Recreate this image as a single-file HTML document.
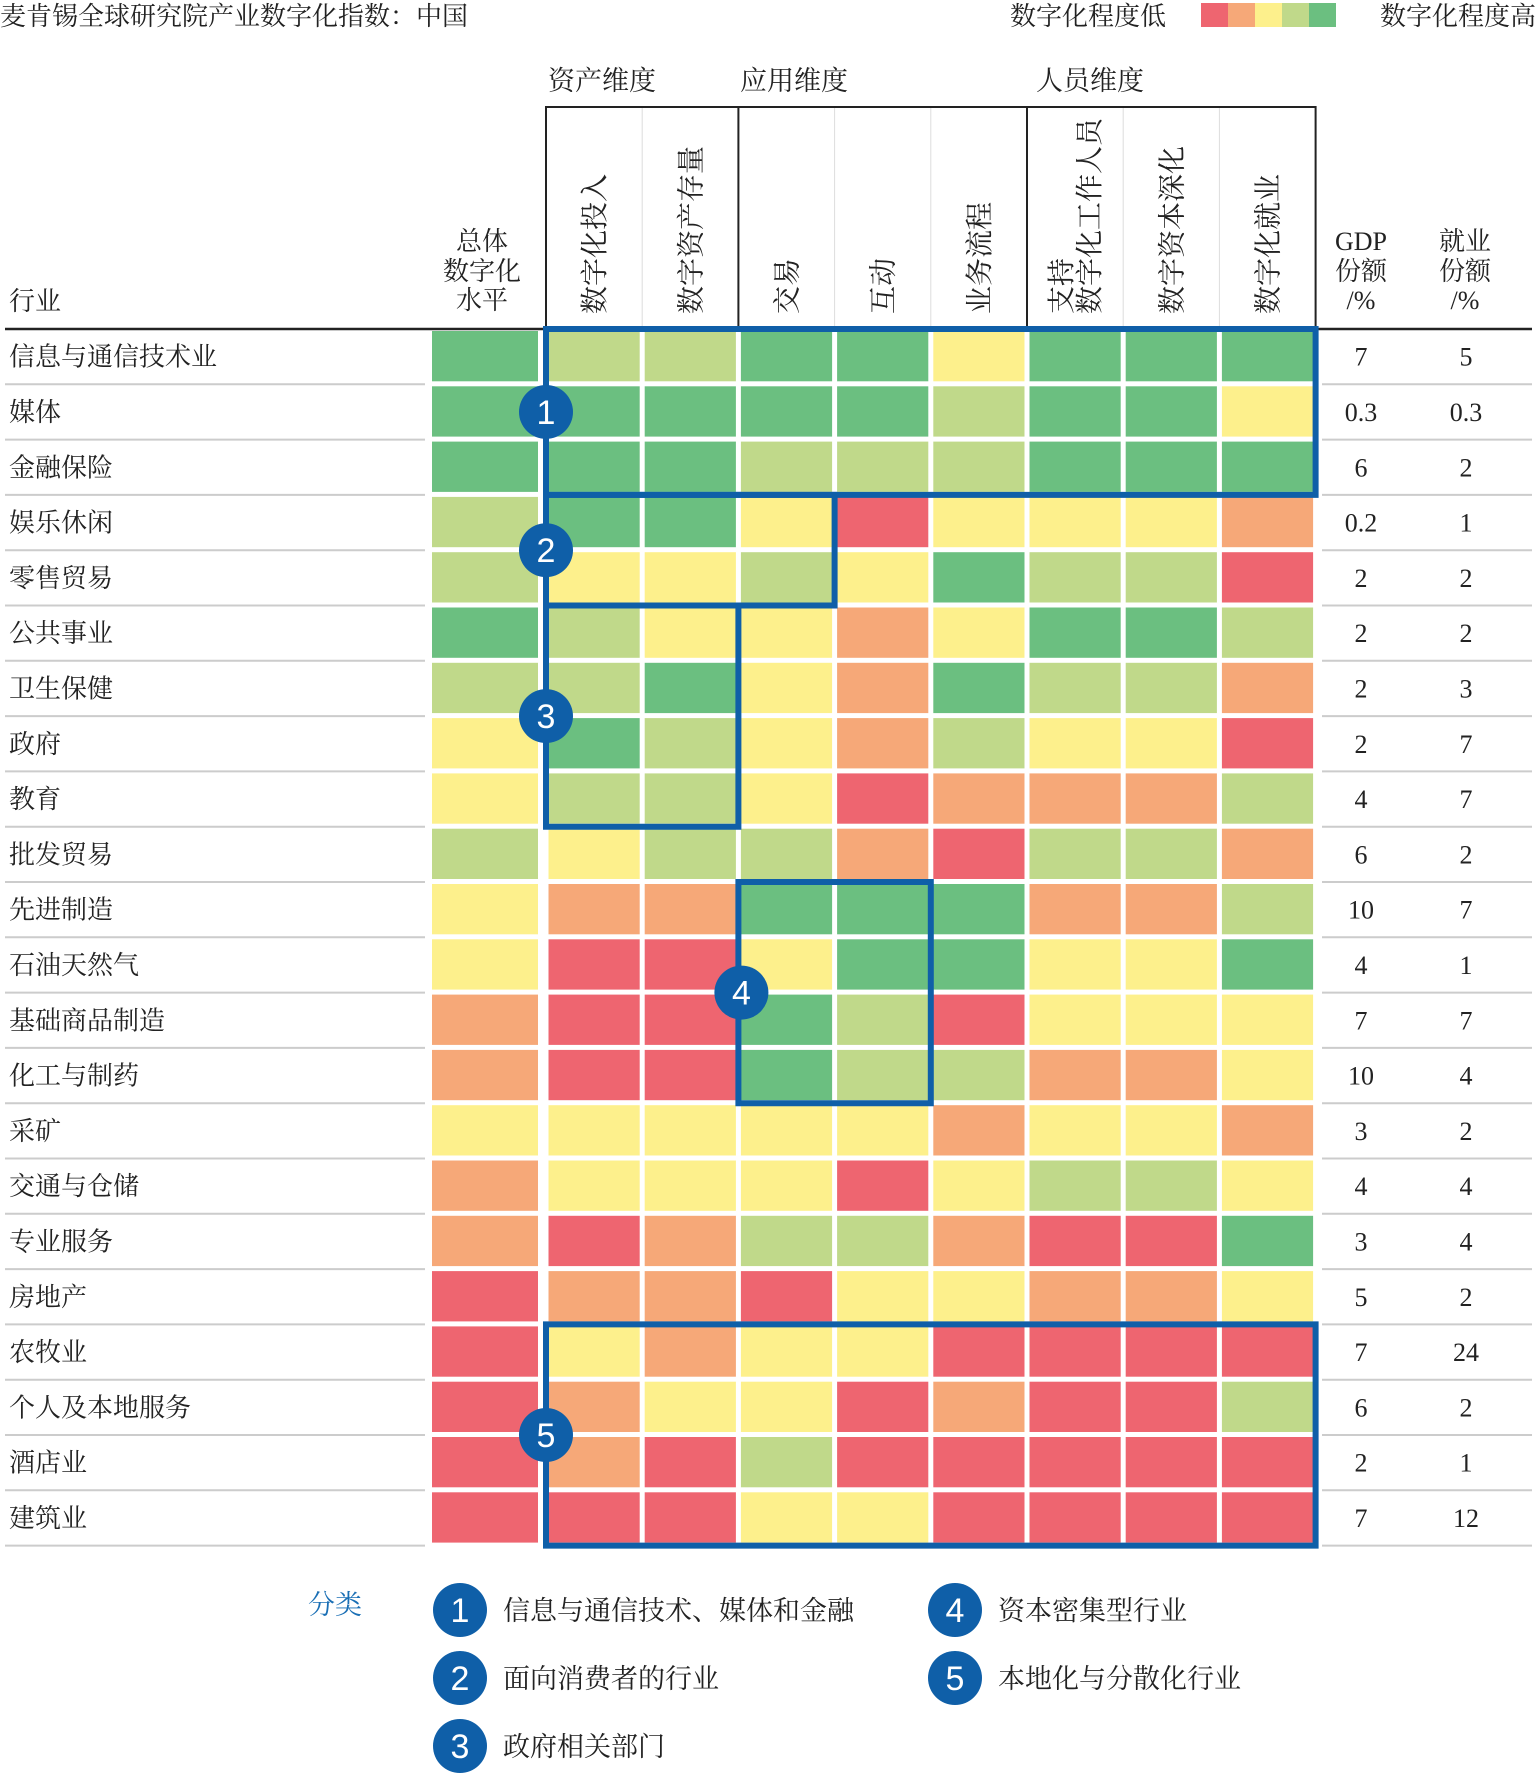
<!DOCTYPE html>
<html><head><meta charset="utf-8"><style>
html,body{margin:0;padding:0;background:#fff;}
svg{display:block;font-family:"Liberation Serif","Noto Serif CJK SC",serif;}
</style></head><body>
<svg id="chart" width="1536" height="1775" viewBox="0 0 1536 1775" xmlns="http://www.w3.org/2000/svg">
<text x="0" y="25" font-size="26" fill="#222">麦肯锡全球研究院产业数字化指数：中国</text>
<g>
<text x="1010" y="25" font-size="26" fill="#222">数字化程度低</text>
<rect x="1201" y="3" width="27" height="24" fill="#ee6570"/>
<rect x="1228" y="3" width="27" height="24" fill="#f6a878"/>
<rect x="1255" y="3" width="27" height="24" fill="#fdf08c"/>
<rect x="1282" y="3" width="27" height="24" fill="#c0d98a"/>
<rect x="1309" y="3" width="27" height="24" fill="#6bbf80"/>
<text x="1536" y="25" font-size="26" fill="#222" text-anchor="end">数字化程度高</text>
</g>
<g id="grid"></g>
<g id="boxes"></g>
<g id="legend2"></g>
</svg>
<script>
const industries = ["信息与通信技术业","媒体","金融保险","娱乐休闲","零售贸易","公共事业","卫生保健","政府","教育","批发贸易","先进制造","石油天然气","基础商品制造","化工与制药","采矿","交通与仓储","专业服务","房地产","农牧业","个人及本地服务","酒店业","建筑业"];
const columns = ["数字化投入","数字资产存量","交易","互动","业务流程","支持|数字化工作人员","数字资本深化","数字化就业"];
// 0=red(low) 1=orange 2=yellow 3=light green 4=green(high)
const overallLevel = [4,4,4,3,3,4,3,2,2,3,2,2,1,1,2,1,1,0,0,0,0,0];
const cellLevels = [
 [3,3,4,4,2,4,4,4],
 [4,4,4,4,3,4,4,2],
 [4,4,3,3,3,4,4,4],
 [4,4,2,0,2,2,2,1],
 [2,2,3,2,4,3,3,0],
 [3,2,2,1,2,4,4,3],
 [3,4,2,1,4,3,3,1],
 [4,3,2,1,3,2,2,0],
 [3,3,2,0,1,1,1,3],
 [2,3,3,1,0,3,3,1],
 [1,1,4,4,4,1,1,3],
 [0,0,2,4,4,2,2,4],
 [0,0,4,3,0,2,2,2],
 [0,0,4,3,3,1,1,2],
 [2,2,2,2,1,2,2,1],
 [2,2,2,0,2,3,3,2],
 [0,1,3,3,1,0,0,4],
 [1,1,0,2,2,1,1,2],
 [2,1,2,2,0,0,0,0],
 [1,2,2,0,1,0,0,3],
 [1,0,3,0,0,0,0,0],
 [0,0,2,2,0,0,0,0]
];
const gdpShare = ["7","0.3","6","0.2","2","2","2","2","4","6","10","4","7","10","3","4","3","5","7","6","2","7"];
const empShare = ["5","0.3","2","1","2","2","3","7","7","2","7","1","7","4","2","4","4","2","24","2","1","12"];
const palette = ["#ee6570","#f6a878","#fdf08c","#c0d98a","#6bbf80"];
const categoryNames = ["信息与通信技术、媒体和金融","面向消费者的行业","政府相关部门","资本密集型行业","本地化与分散化行业"];

const NS="http://www.w3.org/2000/svg";
const X0=546, CW=96.2, Y0=329, RH=55.3;
const colX=i=>X0+i*CW;
const rowY=r=>Y0+r*RH;
function mk(tag,attrs,parent,txt){const e=document.createElementNS(NS,tag);for(const k in attrs)e.setAttribute(k,attrs[k]);if(txt!==undefined)e.textContent=txt;parent.appendChild(e);return e;}
const grid=document.getElementById('grid');
const boxes=document.getElementById('boxes');
const leg=document.getElementById('legend2');

// group headers
[["资产维度",602],["应用维度",794],["人员维度",1090]].forEach(([t,x])=>{
 const e=mk('text',{x:x,y:90,'font-size':27,'text-anchor':'middle',fill:'#222'},grid,t);
 
 
});
// header frame
const hf=mk('path',{d:`M${colX(0)} ${Y0-3} V107 H${colX(8)} V${Y0-3} M${colX(2)} 107 V${Y0-3} M${colX(5)} 107 V${Y0-3}`,stroke:'#222','stroke-width':2,fill:'none'},grid);


[1,3,4,6,7].forEach(i=>{const l=mk('line',{x1:colX(i),x2:colX(i),y1:108,y2:Y0-3,stroke:'#ddd','stroke-width':1},grid);
 
 });
// column headers rotated
columns.forEach((c,i)=>{
 const parts=c.split('|');
 const cx=colX(i)+CW/2;
 parts.forEach((p,j)=>{
  const off=(j-(parts.length-1)/2)*28;
  const e=mk('text',{x:0,y:0,'font-size':28,fill:'#222',transform:`translate(${cx+10+off},314) rotate(-90)`},grid,p);
  
  
 });
});
// left headers
const hdr=(t,x,y,anchor)=>{const e=mk('text',{x:x,y:y,'font-size':26,fill:'#222','text-anchor':anchor||'middle'},grid,t);
 
 };
hdr("行业",9,310,'start');
hdr("总体",482,250);hdr("数字化",482,280);hdr("水平",482,309);
hdr("GDP",1361,250);hdr("份额",1361,280);hdr("/%",1361,309);
hdr("就业",1465,250);hdr("份额",1465,280);hdr("/%",1465,309);
const topLine=mk('line',{x1:5,x2:1532,y1:Y0,y2:Y0,stroke:'#222','stroke-width':2.5},grid);



industries.forEach((name,r)=>{
 const y=rowY(r);
 const lab=mk('text',{x:9,y:y+RH/2+9,'font-size':26,fill:'#222'},grid,name);
 
 
 const o=mk('rect',{x:432,y:y+2,width:106,height:RH-5,fill:palette[overallLevel[r]]},grid);
 
 
 cellLevels[r].forEach((v,i)=>{
  const c=mk('rect',{x:colX(i)+2.5,y:y+2,width:CW-5,height:RH-5,fill:palette[v]},grid);
  
  
 });
 const g=mk('text',{x:1361,y:y+RH/2+9,'font-size':26,fill:'#222','text-anchor':'middle'},grid,gdpShare[r]);
 
 
 const e=mk('text',{x:1466,y:y+RH/2+9,'font-size':26,fill:'#222','text-anchor':'middle'},grid,empShare[r]);
 
 
 if(r<industries.length-1||true){
  const l1=mk('line',{x1:5,x2:425,y1:y+RH,y2:y+RH,stroke:'#ccc','stroke-width':2},grid);
  
  
  const l2=mk('line',{x1:1322,x2:1532,y1:y+RH,y2:y+RH,stroke:'#ccc','stroke-width':2},grid);
  
  
 }
});

// cluster boxes
const B="#0f5fa8";
function box(d,name){const p=mk('path',{d:d,stroke:B,'stroke-width':6,fill:'none','stroke-linejoin':'miter'},boxes);
 
 }
box(`M${colX(0)} ${rowY(0)} H${colX(8)} V${rowY(3)} H${colX(0)} Z`,'cluster-1-box');
box(`M${colX(0)} ${rowY(3)} H${colX(3)} V${rowY(5)} H${colX(0)} Z`,'cluster-2-box');
box(`M${colX(0)} ${rowY(5)} H${colX(2)} V${rowY(9)} H${colX(0)} Z`,'cluster-3-box');
box(`M${colX(2)} ${rowY(10)} H${colX(4)} V${rowY(14)} H${colX(2)} Z`,'cluster-4-box');
box(`M${colX(0)} ${rowY(18)} H${colX(8)} V${rowY(22)} H${colX(0)} Z`,'cluster-5-box');
function badge(cx,cy,n,parent){
 const c=mk('circle',{cx:cx,cy:cy,r:27,fill:B},parent);
 
 
 const t=mk('text',{x:cx,y:cy+12,'font-size':34,fill:'#fff','text-anchor':'middle','font-family':'Liberation Sans, sans-serif'},parent,String(n));
 
 
}
badge(colX(0),rowY(1)+RH/2,1,boxes);
badge(colX(0),rowY(4),2,boxes);
badge(colX(0),rowY(7)-RH*0.0+RH*0.0+(-RH/2)+RH/2+RH*0+(-0),3,boxes);
badge(colX(2)+3,rowY(12),4,boxes);
badge(colX(0),rowY(20),5,boxes);

// bottom legend
const fl=mk('text',{x:335,y:1614,'font-size':27,fill:'#1a6fb5','text-anchor':'middle'},leg,"分类");


const legPos=[[460,1610],[460,1678],[460,1746],[955,1610],[955,1678]];
categoryNames.forEach((t,i)=>{
 const [x,y]=legPos[i];
 badge(x,y,i+1,leg);
 const tx=mk('text',{x:x+43,y:y+10,'font-size':27,fill:'#222'},leg,t);
 
 
});
</script>
</body></html>
